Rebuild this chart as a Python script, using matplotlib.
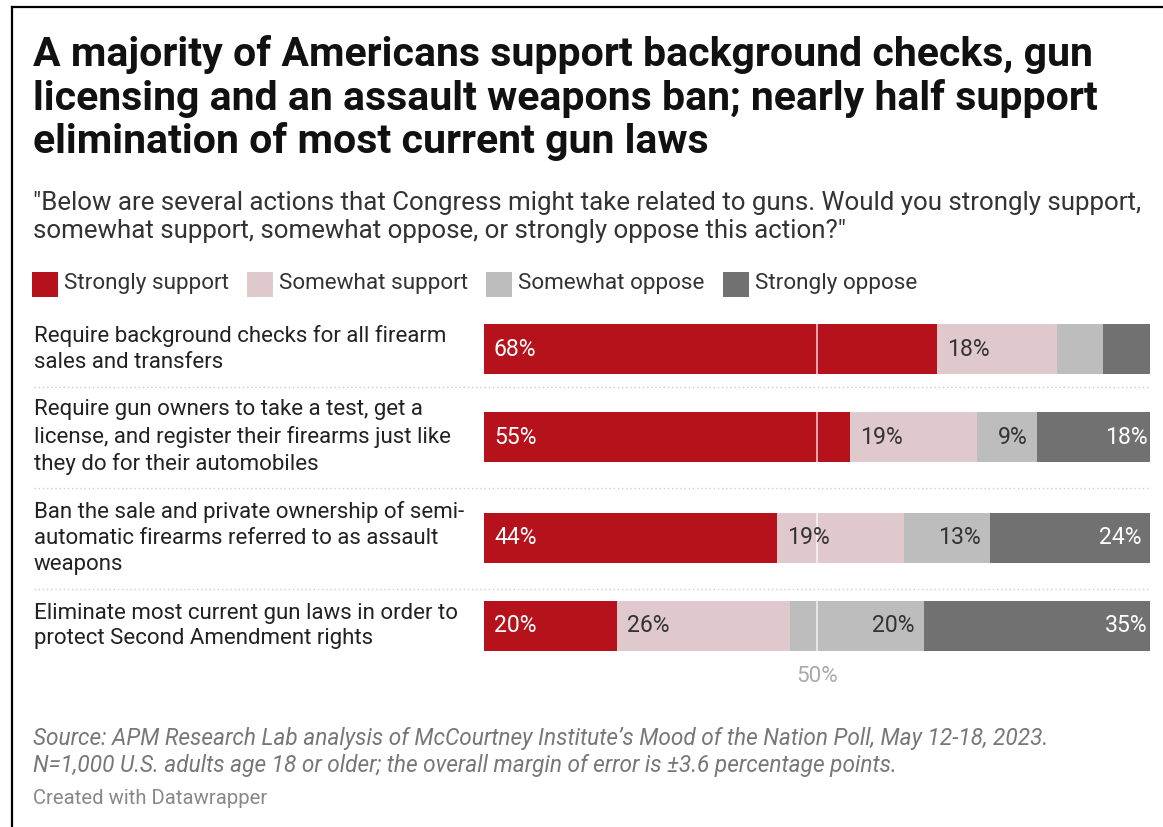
import matplotlib
matplotlib.use("Agg")
import matplotlib.pyplot as plt
import matplotlib.transforms as mtransforms
from matplotlib.patches import Rectangle
from matplotlib.lines import Line2D

plt.rcParams['font.family'] = ['Roboto', 'DejaVu Sans']

W, H = 1163, 827

title = ("A majority of Americans support background checks, gun\n"
         "licensing and an assault weapons ban; nearly half support\n"
         "elimination of most current gun laws")
subtitle = ('"Below are several actions that Congress might take related to guns. Would you strongly support,\n'
            'somewhat support, somewhat oppose, or strongly oppose this action?"')
source = ("Source: APM Research Lab analysis of McCourtney Institute\u2019s Mood of the Nation Poll, May 12-18, 2023.\n"
          "N=1,000 U.S. adults age 18 or older; the overall margin of error is \u00b13.6 percentage points.")
credit = "Created with Datawrapper"

questions = [
    "Require background checks for all firearm\nsales and transfers",
    "Require gun owners to take a test, get a\nlicense, and register their firearms just like\nthey do for their automobiles",
    "Ban the sale and private ownership of semi-\nautomatic firearms referred to as assault\nweapons",
    "Eliminate most current gun laws in order to\nprotect Second Amendment rights",
]
categories = ["Strongly support", "Somewhat support", "Somewhat oppose", "Strongly oppose"]
strongly_support = [68, 55, 44, 20]
somewhat_support = [18, 19, 19, 26]
somewhat_oppose = [7, 9, 13, 20]
strongly_oppose = [7, 18, 24, 35]

colors = ["#b5121b", "#dfc9cd", "#bdbdbd", "#717171"]
text_colors = ["white", "#333333", "#333333", "white"]


def fx(px):
    return px / W


def fy(py):
    return 1 - py / H


def pt(px):
    return px * 0.72


fig = plt.figure(figsize=(W / 100, H / 100), dpi=100)
fig.patch.set_facecolor("white")

# frame on the left and top edges
fig.add_artist(Line2D([fx(12), fx(12)], [fy(7), 0], color="black", lw=1.6))
fig.add_artist(Line2D([fx(12), 1], [fy(7), fy(7)], color="black", lw=1.6))

fig.text(fx(33), fy(98), title, va="center", ha="left", fontsize=pt(41),
         weight="bold", color="#111111", linespacing=1.15)
fig.text(fx(33), fy(217), subtitle, va="center", ha="left", fontsize=pt(25.9),
         color="#333333", linespacing=1.25)

# legend
leg_x = [32, 247, 486, 723]
for x, lab, c in zip(leg_x, categories, colors):
    fig.add_artist(Rectangle((fx(x), fy(297)), 26 / W, 25 / H, transform=fig.transFigure,
                             facecolor=c, edgecolor="none"))
    fig.text(fx(x + 32), fy(284), lab, va="center", ha="left", fontsize=pt(22.5), color="#333333")

# row layout: each row grows with the number of label lines
top = 311.5
line_counts = [q.count("\n") + 1 for q in questions]
row_h = [23 + 26 * n for n in line_counts]
centers = []
y = top
for h in row_h:
    centers.append(y + h / 2)
    y += h
bottom = y

ax = fig.add_axes([fx(484), fy(bottom), 666 / W, (bottom - top) / H])
ax.set_xlim(0, 100)
ax.set_ylim(bottom, top)
ax.axis("off")

series = [strongly_support, somewhat_support, somewhat_oppose, strongly_oppose]
lefts = [0] * len(questions)
for k, (vals, c) in enumerate(zip(series, colors)):
    ax.barh(centers, vals, left=lefts, height=50, color=c, edgecolor="none", zorder=2)
    for i, v in enumerate(vals):
        if v >= 9:
            if k < 2:
                ax.text(lefts[i] + 1.5, centers[i], f"{v}%", ha="left", va="center",
                        fontsize=pt(23), color=text_colors[k], zorder=4)
            else:
                ax.text(lefts[i] + v - 1.35, centers[i], f"{v}%", ha="right", va="center",
                        fontsize=pt(23), color=text_colors[k], zorder=4)
    lefts = [l + v for l, v in zip(lefts, vals)]

# 50% reference line
ax.axvline(50, color="white", lw=1.2, alpha=0.75, zorder=3)
ax.text(50, 676, "50%", ha="center", va="center", fontsize=pt(22.5), color="#aaaaaa", clip_on=False)

# row labels and dotted separators
trans = mtransforms.blended_transform_factory(fig.transFigure, ax.transData)
for q, c in zip(questions, centers):
    ax.text(fx(34), c, q, transform=trans, ha="left", va="center", fontsize=pt(22.3),
            color="#222222", linespacing=1.3, clip_on=False)
y = top
for h in row_h[:-1]:
    y += h
    ax.add_artist(Line2D([fx(34), fx(1150)], [y, y], transform=trans, color="#cccccc",
                         lw=1, linestyle=(0, (1, 2)), clip_on=False))

fig.text(fx(33), fy(752), source, va="center", ha="left", fontsize=pt(22.6), style="italic",
         color="#777777", linespacing=1.19)
fig.text(fx(33), fy(798), credit, va="center", ha="left", fontsize=pt(20.3), color="#888888")

fig.savefig("out.png", dpi=100, facecolor="white")
